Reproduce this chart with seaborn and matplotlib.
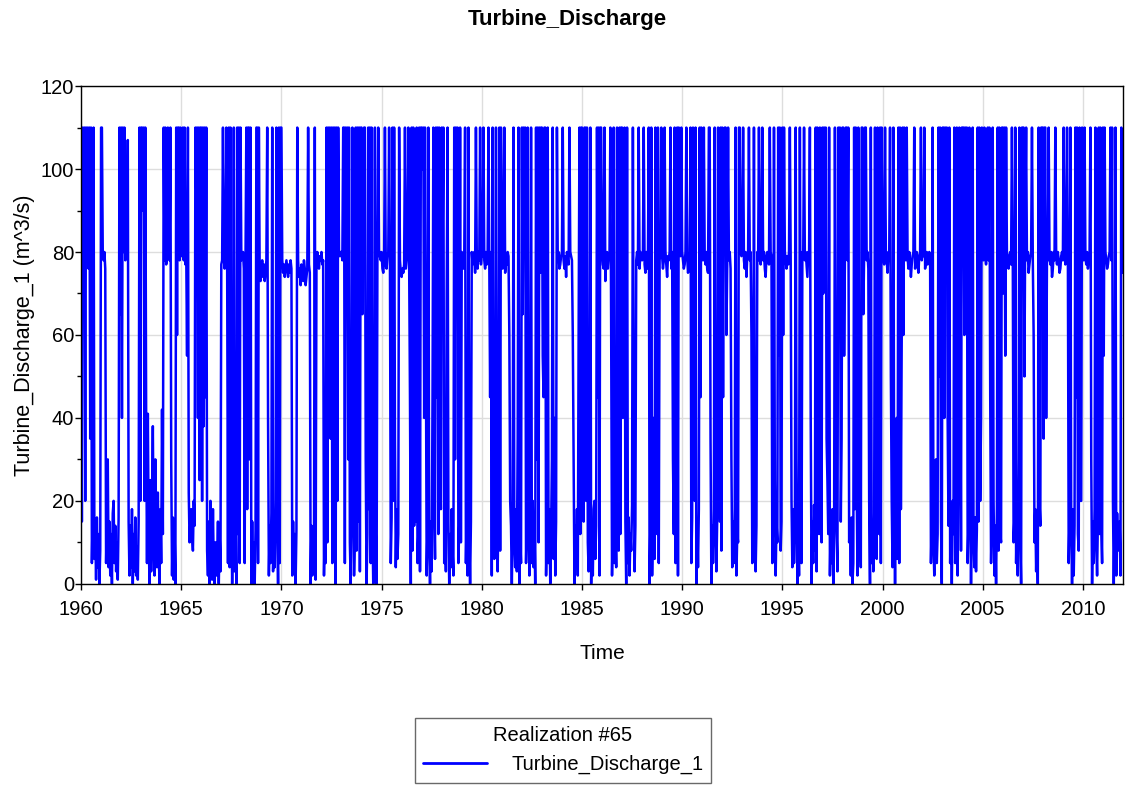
import numpy as np
import matplotlib
matplotlib.use("Agg")
import matplotlib.pyplot as plt
import seaborn as sns
from matplotlib.lines import Line2D
from matplotlib.ticker import MultipleLocator

# Turbine discharge (m^3/s), 24 samples per year (half-monthly)
flow_1960s = [
    80, 15, 110, 78, 110, 20, 110, 80, 110, 76, 110, 35, 110, 5, 18, 110, 6, 14, 1, 16, 4, 12, 0, 8,
    110, 110, 80, 78, 80, 76, 5, 18, 30, 4, 15, 2, 12, 0, 17, 20, 5, 14, 3, 10, 1, 16, 110, 65,
    110, 40, 110, 80, 110, 78, 80, 79, 107, 15, 2, 14, 4, 18, 0, 12, 3, 16, 2, 9, 1, 15, 110, 20,
    110, 110, 90, 110, 20, 110, 40, 5, 41, 12, 0, 25, 3, 20, 38, 10, 2, 30, 15, 4, 22, 8, 0, 18,
    5, 42, 12, 110, 78, 110, 77, 80, 110, 79, 78, 110, 30, 2, 16, 1, 13, 0, 110, 60, 110, 110, 78, 110,
    79, 80, 110, 78, 110, 77, 80, 55, 110, 22, 10, 15, 18, 12, 8, 20, 14, 110, 95, 110, 40, 110, 25, 110,
    110, 20, 110, 38, 110, 45, 110, 8, 2, 15, 0, 20, 4, 1, 18, 3, 0, 10, 2, 6, 15, 0, 12, 3,
    77, 78, 110, 80, 76, 79, 110, 78, 5, 110, 4, 110, 20, 0, 16, 110, 3, 18, 0, 110, 12, 110, 5, 110,
    78, 79, 80, 76, 5, 78, 110, 18, 110, 110, 30, 110, 0, 15, 2, 10, 0, 13, 110, 110, 5, 110, 74, 73,
    76, 78, 74, 77, 73, 75, 78, 110, 40, 2, 14, 5, 17, 110, 3, 12, 4, 20, 110, 20, 0, 110, 5, 110,
]
flow_1970s = [
    110, 78, 75, 77, 74, 76, 78, 76, 74, 77, 75, 78, 76, 2, 15, 5, 12, 0, 13, 110, 78, 74, 76, 72,
    77, 75, 73, 78, 76, 72, 74, 76, 110, 77, 75, 0, 14, 2, 10, 5, 110, 1, 78, 80, 77, 76, 79, 78,
    80, 77, 78, 2, 15, 5, 110, 10, 110, 60, 110, 35, 110, 5, 110, 28, 110, 0, 110, 20, 110, 80, 79, 80,
    80, 78, 110, 110, 5, 110, 80, 110, 30, 110, 10, 0, 15, 110, 40, 2, 12, 110, 8, 110, 15, 110, 3, 110,
    110, 65, 95, 110, 110, 30, 0, 12, 110, 18, 110, 5, 110, 15, 0, 13, 110, 12, 0, 80, 110, 79, 80, 78,
    80, 76, 75, 78, 110, 77, 76, 79, 80, 110, 78, 5, 16, 110, 20, 110, 35, 4, 18, 6, 12, 110, 78, 75,
    74, 76, 75, 77, 110, 76, 78, 80, 110, 77, 45, 0, 110, 8, 110, 14, 60, 15, 110, 5, 12, 110, 3, 110,
    110, 100, 110, 40, 110, 60, 2, 14, 110, 10, 0, 15, 3, 45, 110, 20, 6, 110, 45, 110, 12, 110, 30, 18,
    110, 80, 110, 5, 16, 3, 70, 110, 15, 0, 12, 4, 18, 8, 2, 110, 30, 110, 65, 110, 5, 14, 110, 10,
    80, 78, 76, 79, 110, 5, 18, 2, 110, 12, 0, 15, 80, 77, 78, 80, 75, 110, 79, 76, 80, 78, 110, 77,
]
flow_1980s = [
    80, 79, 110, 78, 76, 80, 77, 79, 110, 78, 45, 80, 2, 110, 20, 6, 15, 110, 15, 3, 18, 110, 8, 110,
    78, 76, 80, 110, 75, 78, 77, 80, 79, 60, 20, 14, 0, 15, 110, 10, 4, 18, 3, 35, 110, 0, 12, 5,
    110, 65, 110, 90, 110, 5, 16, 110, 18, 2, 12, 110, 5, 20, 4, 15, 0, 110, 30, 110, 10, 110, 75, 110,
    110, 55, 45, 110, 110, 2, 14, 110, 5, 18, 0, 12, 30, 110, 6, 40, 2, 15, 110, 78, 80, 76, 77, 79,
    80, 110, 78, 76, 79, 74, 80, 78, 77, 110, 80, 79, 78, 60, 30, 0, 14, 5, 18, 2, 60, 110, 12, 110,
    110, 50, 15, 110, 110, 20, 110, 10, 3, 16, 110, 0, 15, 2, 18, 20, 6, 14, 110, 45, 110, 2, 110, 110,
    80, 77, 76, 110, 73, 78, 80, 76, 79, 80, 110, 60, 2, 15, 110, 5, 18, 4, 110, 20, 8, 110, 12, 110,
    110, 40, 90, 110, 15, 0, 110, 5, 16, 2, 12, 8, 19, 110, 40, 3, 14, 78, 80, 77, 110, 76, 80, 79,
    78, 80, 110, 77, 75, 80, 76, 78, 110, 0, 15, 110, 2, 18, 40, 6, 110, 20, 12, 110, 5, 78, 80, 110,
    79, 76, 78, 110, 80, 77, 74, 79, 78, 80, 110, 76, 80, 30, 12, 110, 5, 17, 110, 2, 110, 80, 79, 110,
]
flow_1990s = [
    80, 78, 76, 77, 80, 110, 79, 75, 76, 80, 110, 5, 16, 110, 50, 20, 110, 0, 15, 4, 18, 110, 45, 110,
    80, 78, 110, 79, 77, 80, 76, 75, 110, 110, 35, 0, 14, 5, 18, 110, 12, 3, 16, 110, 62, 15, 110, 8,
    110, 45, 100, 110, 110, 60, 77, 110, 78, 80, 76, 30, 4, 15, 5, 18, 110, 2, 12, 10, 110, 110, 80, 79,
    80, 110, 78, 76, 80, 74, 79, 80, 110, 78, 80, 60, 5, 16, 110, 20, 3, 14, 80, 78, 110, 79, 77, 80,
    110, 78, 80, 76, 74, 79, 80, 78, 77, 110, 80, 79, 5, 16, 110, 25, 2, 15, 10, 110, 55, 110, 8, 15,
    110, 60, 110, 80, 78, 76, 79, 77, 80, 110, 78, 20, 4, 18, 5, 12, 110, 30, 0, 16, 2, 110, 48, 5,
    80, 79, 110, 78, 80, 77, 74, 80, 78, 110, 40, 0, 15, 5, 19, 8, 110, 3, 110, 20, 12, 110, 30, 10,
    110, 70, 110, 80, 110, 35, 25, 12, 110, 2, 16, 5, 18, 0, 13, 110, 40, 12, 3, 110, 60, 110, 15, 35,
    110, 110, 55, 80, 110, 110, 78, 110, 10, 14, 2, 16, 0, 5, 110, 18, 110, 25, 2, 110, 40, 14, 4, 110,
    110, 65, 80, 110, 110, 78, 80, 76, 20, 0, 110, 5, 15, 3, 17, 110, 15, 6, 110, 30, 12, 110, 5, 110,
]
flow_2000s = [
    80, 79, 77, 110, 80, 78, 75, 80, 79, 110, 50, 20, 4, 110, 15, 0, 16, 40, 6, 110, 5, 110, 18, 60,
    110, 60, 110, 80, 78, 110, 79, 76, 80, 78, 74, 77, 79, 80, 110, 76, 78, 80, 77, 75, 79, 80, 110, 78,
    80, 79, 110, 76, 78, 80, 77, 79, 80, 79, 5, 16, 110, 10, 2, 18, 30, 5, 12, 110, 50, 110, 15, 0,
    110, 110, 40, 110, 80, 110, 40, 14, 110, 5, 18, 0, 20, 12, 110, 5, 16, 110, 2, 30, 110, 65, 8, 110,
    110, 110, 60, 110, 70, 110, 5, 15, 110, 25, 0, 18, 110, 10, 4, 16, 3, 13, 110, 15, 110, 20, 40, 110,
    80, 78, 110, 79, 77, 80, 110, 78, 110, 45, 5, 17, 110, 20, 2, 14, 0, 18, 110, 8, 110, 12, 10, 110,
    110, 70, 110, 55, 110, 80, 78, 76, 79, 80, 77, 110, 80, 10, 16, 110, 5, 19, 2, 30, 110, 12, 0, 110,
    110, 110, 50, 90, 110, 78, 80, 75, 77, 79, 80, 110, 78, 60, 10, 18, 3, 15, 0, 110, 20, 14, 110, 110,
    110, 35, 110, 110, 40, 80, 78, 110, 79, 77, 80, 74, 76, 80, 78, 110, 79, 77, 80, 78, 75, 76, 79, 80,
    78, 110, 80, 77, 79, 110, 80, 5, 16, 110, 15, 0, 18, 2, 14, 110, 45, 110, 12, 8, 110, 20, 20, 110,
]
flow_2010s = [
    80, 78, 110, 79, 77, 80, 76, 78, 80, 110, 30, 0, 15, 5, 18, 110, 10, 2, 16, 110, 12, 110, 14, 5,
    110, 55, 110, 80, 78, 76, 77, 79, 80, 110, 78, 110, 20, 0, 15, 110, 2, 17, 8, 12, 15, 2, 110, 75,
]

start_year = 1960
samples_per_year = 24
year_ticks = [1960, 1965, 1970, 1975, 1980, 1985, 1990, 1995, 2000, 2005, 2010]

flow = np.array(flow_1960s + flow_1970s + flow_1980s + flow_1990s + flow_2000s + flow_2010s, dtype=float)
time = start_year + np.arange(len(flow)) / samples_per_year

sns.set_theme(style="whitegrid")
plt.rcParams["font.family"] = ["Liberation Sans", "DejaVu Sans"]
plt.rcParams["text.color"] = "black"

fig = plt.figure(figsize=(11.35, 7.9), dpi=100)
ax = fig.add_axes([0.0714, 0.261, 0.9180, 0.630])

sns.lineplot(x=time, y=flow, color="#0000FF", linewidth=1.8, ax=ax, legend=False)

ax.set_xlim(1960, 2012)
ax.set_ylim(0, 120)
ax.set_xticks(year_ticks)
ax.yaxis.set_major_locator(MultipleLocator(20))
ax.yaxis.set_minor_locator(MultipleLocator(10))
ax.grid(True, which="major", color="#dddddd", linewidth=1)
ax.grid(False, which="minor")
for side in ["left", "bottom", "top", "right"]:
    ax.spines[side].set_color("black")
    ax.spines[side].set_linewidth(1)
ax.tick_params(axis="both", which="major", direction="out", length=4, width=1, color="black",
               labelsize=14.5, labelcolor="black", left=True, bottom=True)
ax.tick_params(axis="y", which="minor", direction="out", length=3, width=1, color="black", left=True)
ax.tick_params(axis="x", pad=8)
ax.tick_params(axis="y", pad=1)

ax.set_xlabel("Time", fontsize=15, color="black", labelpad=18)
ax.set_ylabel("Turbine_Discharge_1 (m^3/s)", fontsize=15.5, color="black", labelpad=4)
fig.suptitle("Turbine_Discharge", fontsize=16, fontweight="bold", color="black", y=0.975, va="center")

handle = Line2D([], [], color="#0000FF", linewidth=2)
leg = fig.legend([handle], ["Turbine_Discharge_1"], title="Realization #65",
                 loc="upper center", bbox_to_anchor=(0.496, 0.091), fontsize=14.5,
                 title_fontsize=14.5, frameon=True, fancybox=False, borderpad=0.4,
                 handlelength=3.2, handletextpad=1.2, borderaxespad=0, labelcolor="black")
leg.get_title().set_color("black")
leg.get_frame().set_edgecolor("#444444")
leg.get_frame().set_linewidth(1)

fig.savefig("out.png", dpi=100)
